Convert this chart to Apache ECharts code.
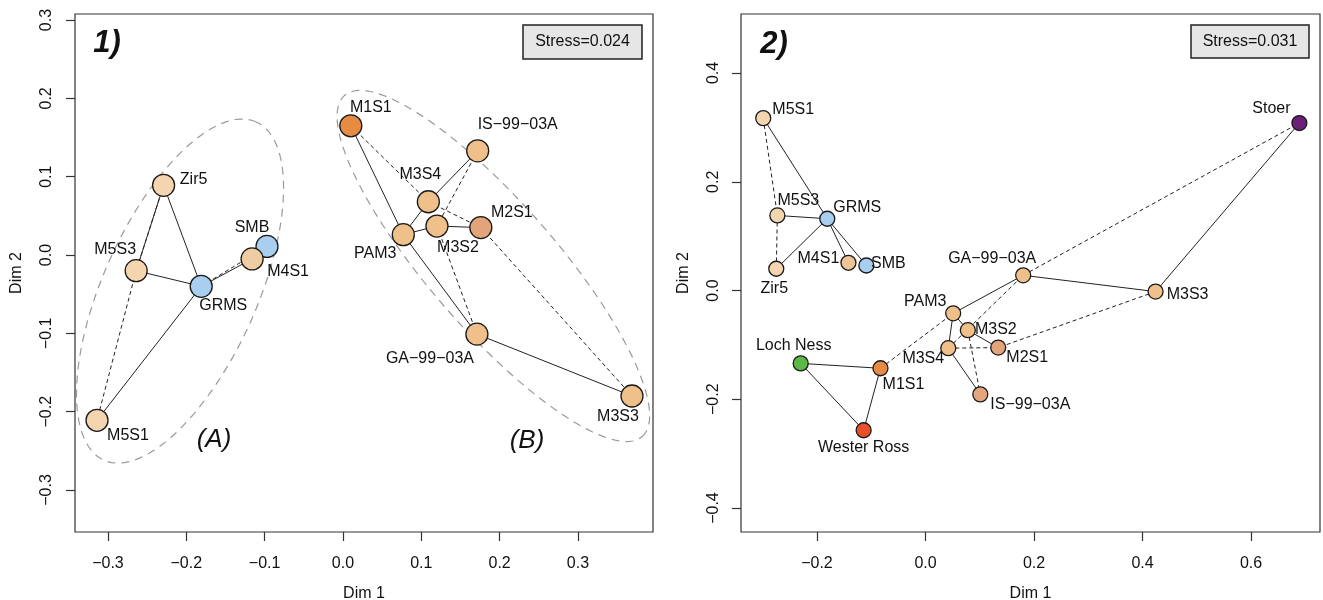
<!DOCTYPE html>
<html>
<head>
<meta charset="utf-8">
<script src="https://cdn.jsdelivr.net/npm/echarts@6/dist/echarts.min.js"></script>
<style>
html,body{margin:0;padding:0;background:#fff}
#main{width:1323px;height:600px}
</style>
</head>
<body>
<div id="main"></div>
<script>
// ---- panel 1) ----
var names1 = ['Zir5','M5S3','GRMS','SMB','M4S1','M5S1','M1S1','IS-99-03A','M3S4','M3S2','M2S1','PAM3','GA-99-03A','M3S3'];
var dimA1 = [-0.229,-0.264,-0.181,-0.097,-0.116,-0.314,0.010,0.172,0.109,0.120,0.176,0.077,0.171,0.369];
var dimA2 = [0.089,-0.020,-0.040,0.011,-0.005,-0.211,0.165,0.133,0.068,0.037,0.035,0.026,-0.101,-0.180];
var solid1 = [['Zir5','GRMS'],['Zir5','M5S3'],['M5S3','GRMS'],['GRMS','M4S1'],['GRMS','M5S1'],['M1S1','PAM3'],['IS-99-03A','M3S4'],
  ['PAM3','M3S4'],['PAM3','M3S2'],['M3S2','M2S1'],['PAM3','GA-99-03A'],['GA-99-03A','M3S3']];
var dashed1 = [['Zir5','M5S3'],['GRMS','SMB'],['M5S3','M5S1'],['M1S1','M3S4'],['M3S4','M2S1'],['IS-99-03A','M3S2'],
  ['M3S2','GA-99-03A'],['M2S1','M3S3']];
// group ellipses: centre x, centre y, semi-major, semi-minor, angle (deg)
var ellipses1 = [[-0.208,-0.046,0.2368,0.0982,65.75],[0.192,-0.014,0.289,0.081,-48.9]];
var xTicks1 = [-0.3,-0.2,-0.1,0.0,0.1,0.2,0.3];
var yTicks1 = [-0.3,-0.2,-0.1,0.0,0.1,0.2,0.3];

// ---- panel 2) ----
var names2 = ['M5S1','M5S3','GRMS','Zir5','M4S1','SMB','Stoer','GA-99-03A','M3S3','PAM3','M3S2','M3S4','M2S1','IS-99-03A','Loch Ness','M1S1','Wester Ross'];
var dimB1 = [-0.299,-0.273,-0.181,-0.275,-0.142,-0.109,0.689,0.180,0.424,0.051,0.078,0.042,0.134,0.101,-0.230,-0.083,-0.114];
var dimB2 = [0.317,0.138,0.132,0.040,0.051,0.046,0.308,0.028,-0.002,-0.042,-0.073,-0.106,-0.105,-0.191,-0.134,-0.143,-0.257];
var solid2 = [['M5S1','GRMS'],['M5S3','GRMS'],['Zir5','GRMS'],['GRMS','M4S1'],['GRMS','SMB'],['GA-99-03A','M3S3'],['M3S3','Stoer'],
  ['PAM3','GA-99-03A'],['PAM3','M3S4'],['PAM3','M3S2'],['M3S2','M2S1'],['M3S4','IS-99-03A'],['Loch Ness','M1S1'],
  ['Loch Ness','Wester Ross'],['M1S1','Wester Ross']];
var dashed2 = [['M5S1','M5S3'],['M5S3','Zir5'],['GA-99-03A','Stoer'],['M3S3','M2S1'],['M3S4','M2S1'],['M3S4','GA-99-03A'],
  ['M3S2','IS-99-03A'],['M1S1','PAM3']];
var xTicks2 = [-0.2,0.0,0.2,0.4,0.6];
var yTicks2 = [-0.4,-0.2,0.0,0.2,0.4];

// styles
var col1 = {'Zir5':'#f4d5b0','M5S3':'#f4d5b0','M5S1':'#f4d5b0','GRMS':'#a8cfef','SMB':'#a8cfef','M4S1':'#efcca2',
  'M1S1':'#e68b43','IS-99-03A':'#efc089','M3S4':'#efc089','M3S2':'#efc089','M2S1':'#e3a47a','PAM3':'#efc089',
  'GA-99-03A':'#efc089','M3S3':'#efc089'};
var col2 = {'Zir5':'#f4d5b0','M5S3':'#f4d5b0','M5S1':'#f4d5b0','GRMS':'#a8cfef','SMB':'#a8cfef','M4S1':'#edc597',
  'M1S1':'#e68b43','IS-99-03A':'#e3a67e','M3S4':'#efc089','M3S2':'#efc089','M2S1':'#e3a47a','PAM3':'#efc089',
  'GA-99-03A':'#efc089','M3S3':'#efc089','Stoer':'#6b1f78','Loch Ness':'#5cb946','Wester Ross':'#e8502a'};
var off1 = {'Zir5':[30,-6],'M5S3':[-21,-21],'SMB':[-15,-19],'M4S1':[36,13],'GRMS':[22,19],'M5S1':[31,15],'M1S1':[20,-18],
  'IS-99-03A':[40,-26],'M3S4':[-8,-27],'M2S1':[31,-15],'M3S2':[21,22],'PAM3':[-28,19],'GA-99-03A':[-47,24],'M3S3':[-14,21]};
var off2 = {'M5S1':[30,-9],'M5S3':[21,-15],'GRMS':[30,-11],'M4S1':[-30,-4],'SMB':[22,-2],'Zir5':[-2,20],'Stoer':[-28,-14],
  'GA-99-03A':[-31,-17],'M3S3':[32,3],'PAM3':[-28,-12],'M3S2':[28,-1],'M3S4':[-25,10],'M2S1':[29,10],'IS-99-03A':[50,10],
  'Loch Ness':[-7,-18],'M1S1':[23,16],'Wester Ross':[0,17]};

var FONT = '"Liberation Sans", Arial, Helvetica, sans-serif';
function minus(s){ return String(s).replace(/-/g,'\u2212'); }

function pos(names, xs, ys, n){ var i = names.indexOf(n); return [xs[i], ys[i]]; }

function edgeSeries(names, xs, ys, edges, dashed, idx){
  return {
    type:'lines', coordinateSystem:'cartesian2d', xAxisIndex:idx, yAxisIndex:idx, silent:true, z:2,
    data: edges.map(function(e){ return {coords:[pos(names,xs,ys,e[0]), pos(names,xs,ys,e[1])]}; }),
    lineStyle:{color:'#222', width:1, opacity:1, type: dashed ? [4,3] : 'solid'}
  };
}

function pointSeries(names, xs, ys, cols, offs, size, idx){
  return {
    type:'scatter', xAxisIndex:idx, yAxisIndex:idx, symbolSize:size, z:5, silent:true,
    itemStyle:{borderColor:'#1a1a1a', borderWidth:1.3, opacity:1},
    label:{show:true, position:'inside', fontFamily:FONT, fontSize:16, color:'#111',
      formatter:function(p){ return minus(p.name); }},
    data: names.map(function(n,i){
      return {name:n, value:[xs[i], ys[i]], itemStyle:{color:cols[n]}, label:{offset:offs[n] || [0,0]}};
    })
  };
}

function ellipseSeries(list, idx){
  return {
    type:'custom', xAxisIndex:idx, yAxisIndex:idx, clip:true, silent:true, z:1,
    data: list, encode:{x:0, y:1},
    renderItem:function(params, api){
      var cx = api.value(0), cy = api.value(1), a = api.value(2), b = api.value(3);
      var th = api.value(4) * Math.PI / 180, pts = [];
      for (var k = 0; k < 120; k++) {
        var t = k / 120 * 2 * Math.PI;
        pts.push(api.coord([cx + a*Math.cos(th)*Math.cos(t) - b*Math.sin(th)*Math.sin(t),
                            cy + a*Math.sin(th)*Math.cos(t) + b*Math.cos(th)*Math.sin(t)]));
      }
      return {type:'polygon', shape:{points:pts}, style:{fill:'none', stroke:'#9a9a9a', lineWidth:1.2, lineDash:[8,6]}};
    }
  };
}

function xAxis(idx, min, max, ticks){
  return {
    type:'value', gridIndex:idx, min:min, max:max, name:'Dim 1', nameLocation:'middle', nameGap:54,
    nameTextStyle:{fontFamily:FONT, fontSize:16, color:'#111'},
    axisLine:{show:false, onZero:false}, splitLine:{show:false},
    axisTick:{show:true, length:9, customValues:ticks, lineStyle:{color:'#333', width:1.2}},
    axisLabel:{customValues:ticks, margin:24, fontFamily:FONT, fontSize:16, color:'#111',
      formatter:function(v){ return minus(v.toFixed(1)); }}
  };
}
function yAxis(idx, min, max, ticks, gap, margin){
  return {
    type:'value', gridIndex:idx, min:min, max:max, name:'Dim 2', nameLocation:'middle', nameGap:gap,
    nameTextStyle:{fontFamily:FONT, fontSize:16, color:'#111'},
    axisLine:{show:false, onZero:false}, splitLine:{show:false},
    axisTick:{show:true, length:9, customValues:ticks, lineStyle:{color:'#333', width:1.2}},
    axisLabel:{customValues:ticks, rotate:90, margin:margin, fontFamily:FONT, fontSize:16, color:'#111',
      formatter:function(v){ return minus(v.toFixed(1)); }}
  };
}

var chart = echarts.init(document.getElementById('main'));
chart.setOption({
  animation:false,
  backgroundColor:'#fff',
  grid:[
    {left:75, top:14, width:578, height:518, outerBoundsMode:'none', containLabel:false,
      show:true, borderColor:'#333', borderWidth:1.2, backgroundColor:'transparent'},
    {left:741, top:14, width:579, height:518, outerBoundsMode:'none', containLabel:false,
      show:true, borderColor:'#333', borderWidth:1.2, backgroundColor:'transparent'}
  ],
  xAxis:[xAxis(0,-0.3421,0.3958,xTicks1), xAxis(1,-0.340,0.727,xTicks2)],
  yAxis:[yAxis(0,-0.3536,0.3077,yTicks1,50,20), yAxis(1,-0.4441,0.5085,yTicks2,49,19)],
  graphic:[
    {type:'text', x:107, y:43, style:{text:'1)', font:'italic bold 31px '+FONT, fill:'#111', align:'center', verticalAlign:'middle'}},
    {type:'text', x:774, y:44, style:{text:'2)', font:'italic bold 31px '+FONT, fill:'#111', align:'center', verticalAlign:'middle'}},
    {type:'rect', shape:{x:523, y:25, width:119, height:34}, style:{fill:'#e6e6e6', stroke:'#222', lineWidth:1.5}},
    {type:'text', x:582.5, y:42, style:{text:'Stress=0.024', font:'16px '+FONT, fill:'#111', align:'center', verticalAlign:'middle'}},
    {type:'rect', shape:{x:1191, y:25, width:118, height:33}, style:{fill:'#e6e6e6', stroke:'#222', lineWidth:1.5}},
    {type:'text', x:1250, y:41.5, style:{text:'Stress=0.031', font:'16px '+FONT, fill:'#111', align:'center', verticalAlign:'middle'}},
    {type:'text', x:214, y:440, style:{text:'(A)', font:'italic 26px '+FONT, fill:'#111', align:'center', verticalAlign:'middle'}},
    {type:'text', x:527, y:441, style:{text:'(B)', font:'italic 26px '+FONT, fill:'#111', align:'center', verticalAlign:'middle'}}
  ],
  series:[
    ellipseSeries(ellipses1, 0),
    edgeSeries(names1, dimA1, dimA2, solid1, false, 0),
    edgeSeries(names1, dimA1, dimA2, dashed1, true, 0),
    pointSeries(names1, dimA1, dimA2, col1, off1, 22, 0),
    edgeSeries(names2, dimB1, dimB2, solid2, false, 1),
    edgeSeries(names2, dimB1, dimB2, dashed2, true, 1),
    pointSeries(names2, dimB1, dimB2, col2, off2, 15, 1)
  ]
});
</script>
</body>
</html>
